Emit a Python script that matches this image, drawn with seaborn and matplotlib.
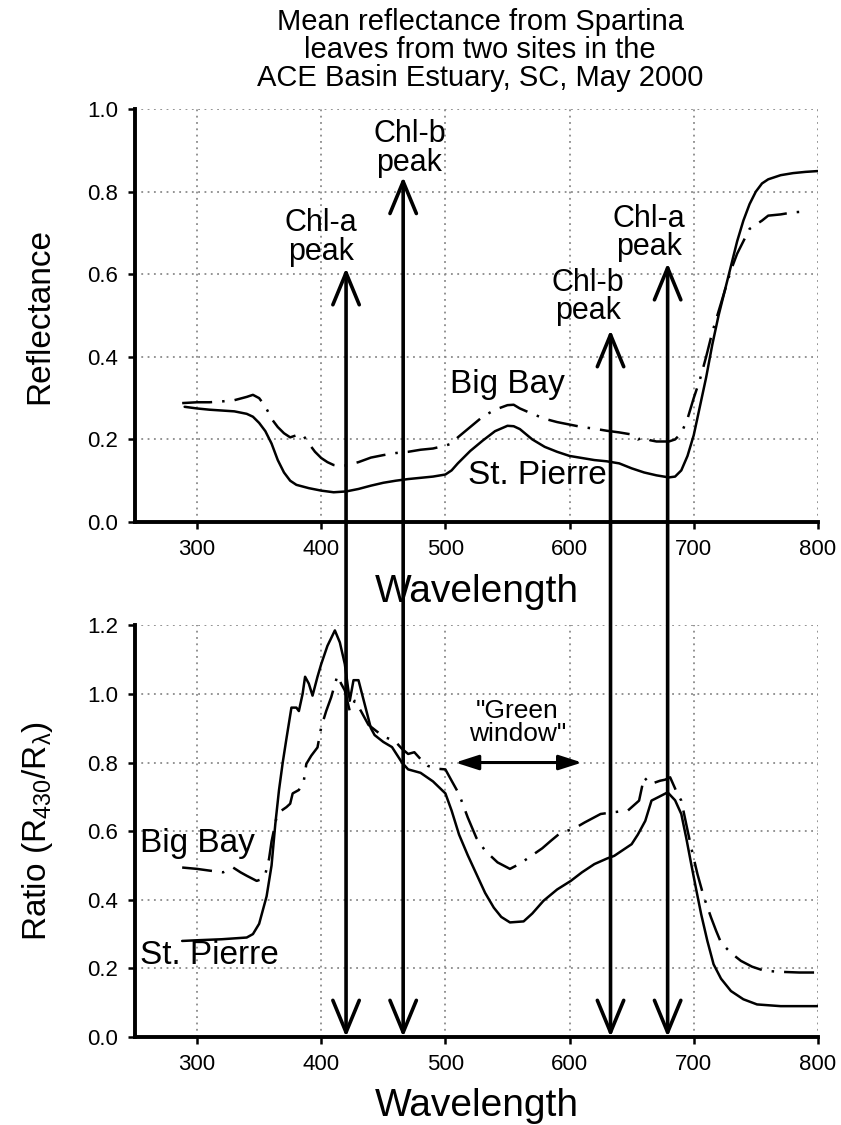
import numpy as np
import pandas as pd
import matplotlib
matplotlib.use("Agg")
import matplotlib.pyplot as plt
from matplotlib.patches import ConnectionPatch
import seaborn as sns

# ============================================
# 1. DONNEES
# ============================================
title = "Mean reflectance from Spartina\nleaves from two sites in the\nACE Basin Estuary, SC, May 2000"
sites = ["St. Pierre", "Big Bay"]

# --- Reflectance (panneau du haut)
wl_sp_top = [290, 300, 310, 320, 330, 340, 345, 350, 355, 360, 365, 370, 375, 380, 390, 400,
             410, 420, 430, 440, 450, 460, 470, 480, 490, 500, 505, 510, 520, 530, 540, 550,
             555, 560, 570, 580, 590, 600, 610, 620, 630, 640, 650, 660, 670, 680, 685, 690,
             695, 700, 705, 710, 715, 720, 725, 730, 735, 740, 745, 750, 755, 760, 770, 780,
             790, 800]
refl_sp = [0.279, 0.275, 0.272, 0.270, 0.268, 0.262, 0.255, 0.240, 0.220, 0.190, 0.150, 0.120,
           0.100, 0.090, 0.082, 0.076, 0.072, 0.074, 0.080, 0.088, 0.095, 0.100, 0.104, 0.107,
           0.110, 0.115, 0.125, 0.142, 0.172, 0.197, 0.220, 0.233, 0.232, 0.225, 0.200, 0.182,
           0.170, 0.160, 0.155, 0.150, 0.147, 0.142, 0.130, 0.120, 0.113, 0.108, 0.110, 0.125,
           0.160, 0.210, 0.280, 0.350, 0.430, 0.500, 0.560, 0.620, 0.680, 0.730, 0.770, 0.800,
           0.820, 0.830, 0.840, 0.845, 0.848, 0.850]

wl_bb_top = [288, 300, 310, 320, 330, 340, 345, 350, 355, 360, 365, 370, 375, 380, 385, 390,
             395, 400, 405, 410, 415, 420, 430, 440, 450, 460, 470, 480, 490, 500, 505, 510,
             520, 530, 540, 550, 555, 560, 570, 580, 590, 600, 610, 620, 630, 640, 650, 655,
             660, 665, 670, 680, 685, 690, 695, 700, 705, 710, 715, 720, 725, 730, 735, 740,
             745, 750, 755, 760, 770, 780, 790]
refl_bb = [0.288, 0.290, 0.290, 0.292, 0.295, 0.303, 0.308, 0.300, 0.280, 0.250, 0.230, 0.215,
           0.205, 0.210, 0.212, 0.190, 0.170, 0.155, 0.145, 0.138, 0.136, 0.137, 0.145, 0.156,
           0.162, 0.167, 0.170, 0.175, 0.178, 0.185, 0.190, 0.205, 0.230, 0.255, 0.272, 0.283,
           0.284, 0.275, 0.262, 0.250, 0.242, 0.236, 0.230, 0.226, 0.221, 0.217, 0.212, 0.200,
           0.205, 0.198, 0.195, 0.195, 0.200, 0.215, 0.250, 0.300, 0.345, 0.400, 0.460, 0.510,
           0.560, 0.610, 0.650, 0.680, 0.710, 0.720, 0.730, 0.742, 0.745, 0.750, 0.752]

# --- Ratio R430/R (panneau du bas)
wl_sp_bot = [288, 300, 320, 340, 345, 350, 353, 356, 360, 363, 366, 369, 372, 376, 380, 382,
             385, 387, 390, 393, 397, 400, 405, 411, 415, 419, 423, 426, 430, 435, 440, 443,
             450, 457, 465, 470, 480, 490, 500, 505, 511, 518, 525, 532, 539, 545, 552, 563,
             570, 579, 590, 601, 610, 620, 630, 636, 643, 650, 655, 661, 666, 672, 679, 685,
             690, 694, 698, 702, 706, 711, 716, 722, 730, 740, 751, 770, 800]
ratio_sp = [0.280, 0.282, 0.285, 0.290, 0.300, 0.330, 0.370, 0.410, 0.500, 0.620, 0.720, 0.800,
            0.870, 0.960, 0.960, 0.950, 1.000, 1.050, 1.030, 0.995, 1.050, 1.087, 1.140, 1.185,
            1.150, 1.087, 0.980, 1.040, 1.040, 0.970, 0.900, 0.880, 0.860, 0.845, 0.800, 0.780,
            0.770, 0.745, 0.710, 0.660, 0.590, 0.530, 0.475, 0.420, 0.377, 0.350, 0.334, 0.337,
            0.360, 0.397, 0.430, 0.455, 0.480, 0.504, 0.520, 0.528, 0.545, 0.562, 0.590, 0.630,
            0.689, 0.700, 0.713, 0.690, 0.650, 0.580, 0.504, 0.430, 0.358, 0.280, 0.212, 0.170,
            0.134, 0.110, 0.095, 0.090, 0.090]

wl_bb_bot = [288, 300, 310, 321, 329, 335, 340, 348, 352, 355, 358, 360, 364, 368, 372, 375,
             377, 382, 386, 388, 392, 397, 400, 404, 408, 413, 416, 419, 423, 427, 432, 438,
             445, 451, 459, 465, 470, 475, 480, 486, 493, 500, 505, 511, 518, 525, 532, 542,
             552, 560, 570, 578, 585, 593, 603, 612, 625, 635, 647, 656, 660, 665, 669, 673,
             677, 681, 687, 690, 694, 698, 703, 708, 714, 718, 722, 730, 738, 747, 757, 770,
             785, 800]
ratio_bb = [0.494, 0.490, 0.485, 0.480, 0.494, 0.480, 0.470, 0.455, 0.460, 0.475, 0.520, 0.570,
            0.640, 0.660, 0.670, 0.680, 0.710, 0.720, 0.747, 0.796, 0.820, 0.844, 0.903, 0.950,
            0.990, 1.053, 1.030, 1.010, 0.950, 0.980, 0.950, 0.910, 0.890, 0.874, 0.864, 0.840,
            0.825, 0.830, 0.810, 0.790, 0.782, 0.780, 0.747, 0.708, 0.640, 0.580, 0.543, 0.509,
            0.490, 0.505, 0.530, 0.550, 0.572, 0.596, 0.606, 0.625, 0.650, 0.655, 0.660, 0.689,
            0.757, 0.737, 0.742, 0.747, 0.750, 0.757, 0.708, 0.689, 0.620, 0.552, 0.475, 0.410,
            0.348, 0.310, 0.275, 0.245, 0.222, 0.205, 0.193, 0.190, 0.188, 0.188]

# fleches des pics de chlorophylle : longueur d'onde, hauteur dans le panneau du haut
peak_wl = [420, 466, 633, 679]
peak_top = [0.615, 0.836, 0.465, 0.627]
peak_labels = ["Chl-a\npeak", "Chl-b\npeak", "Chl-b\npeak", "Chl-a\npeak"]
peak_label_x = [400, 471, 615, 664]
peak_label_y = [0.69, 0.905, 0.545, 0.70]

x_ticks = [300, 400, 500, 600, 700, 800]
y_ticks_top = [0.0, 0.2, 0.4, 0.6, 0.8, 1.0]
y_ticks_bot = [0.0, 0.2, 0.4, 0.6, 0.8, 1.0, 1.2]

df_top = pd.concat([
    pd.DataFrame({"wl": wl_sp_top, "val": refl_sp, "site": sites[0]}),
    pd.DataFrame({"wl": wl_bb_top, "val": refl_bb, "site": sites[1]}),
])
df_bot = pd.concat([
    pd.DataFrame({"wl": wl_sp_bot, "val": ratio_sp, "site": sites[0]}),
    pd.DataFrame({"wl": wl_bb_bot, "val": ratio_bb, "site": sites[1]}),
])

# ============================================
# 2. STYLE
# ============================================
sns.set_style("white")
plt.rcParams["font.family"] = ["Liberation Sans", "DejaVu Sans"]
plt.rcParams["mathtext.default"] = "regular"
plt.rcParams["text.color"] = "black"
plt.rcParams["axes.labelcolor"] = "black"
plt.rcParams["xtick.color"] = "black"
plt.rcParams["ytick.color"] = "black"

tick_font = ["Liberation Sans Narrow", "Liberation Sans", "DejaVu Sans"]
dash_styles = {"St. Pierre": "", "Big Bay": (12, 4, 1, 4)}

fig = plt.figure(figsize=(8.41, 11.25), dpi=100)
ax1 = fig.add_axes([0.1605, 0.536, 0.812, 0.367])
ax2 = fig.add_axes([0.1605, 0.0782, 0.812, 0.366])

# ============================================
# 3. COURBES
# ============================================
for ax, df in [(ax1, df_top), (ax2, df_bot)]:
    sns.lineplot(data=df, x="wl", y="val", style="site", dashes=dash_styles,
                 color="black", linewidth=1.8, estimator=None, sort=False,
                 legend=False, ax=ax)

for ax, yt in [(ax1, y_ticks_top), (ax2, y_ticks_bot)]:
    ax.set_xlim(250, 800)
    ax.set_ylim(yt[0], yt[-1])
    ax.set_xticks(x_ticks)
    ax.set_yticks(yt)
    ax.set_yticklabels([f"{v:.1f}" for v in yt])
    ax.grid(True, linestyle=(0, (1, 2.5)), color="#8a8a8a", linewidth=1.3)
    ax.set_axisbelow(True)
    sns.despine(ax=ax)
    for s in ["left", "bottom"]:
        ax.spines[s].set_linewidth(2.8)
        ax.spines[s].set_color("black")
    ax.tick_params(direction="out", length=5, width=1.8, colors="black",
                   labelsize=16, pad=7, bottom=True, left=True)
    for lbl in ax.get_xticklabels() + ax.get_yticklabels():
        lbl.set_fontfamily(tick_font)
        lbl.set_color("black")
    ax.set_xlabel("Wavelength", fontsize=28, color="black")
    ax.xaxis.set_label_coords(0.5, -0.125)

ax1.set_ylabel("Reflectance", fontsize=24, color="black")
ax1.yaxis.set_label_coords(-0.117, 0.5)
ax2.set_ylabel("Ratio (R$_{430}$/R$_{\\lambda}$)", fontsize=24, color="black")
ax2.yaxis.set_label_coords(-0.117, 0.5)

# ============================================
# 4. ANNOTATIONS
# ============================================
fig.text(0.571, 0.9555, title, ha="center", va="center", fontsize=21,
         linespacing=1.0, color="black")

for lx, ly, txt in zip(peak_label_x, peak_label_y, peak_labels):
    ax1.text(lx, ly, txt, ha="center", va="center", fontsize=22, linespacing=0.95)

ax1.text(550, 0.332, "Big Bay", ha="center", va="center", fontsize=24)
ax1.text(574, 0.112, "St. Pierre", ha="center", va="center", fontsize=24)
ax2.text(254, 0.565, "Big Bay", ha="left", va="center", fontsize=24)
ax2.text(254, 0.239, "St. Pierre", ha="left", va="center", fontsize=24)

ax2.text(558, 0.916, "\"Green\nwindow\"", ha="center", va="center", fontsize=19, linespacing=0.95)
ax2.annotate("", xy=(508, 0.8), xytext=(610, 0.8),
             arrowprops=dict(arrowstyle="<|-|>,head_length=1.4,head_width=0.45",
                             color="black", lw=2.2, shrinkA=0, shrinkB=0))

# fleches verticales qui traversent les deux panneaux
for px, pt in zip(peak_wl, peak_top):
    con = ConnectionPatch(xyA=(px, pt), coordsA=ax1.transData,
                          xyB=(px, 0.0), coordsB=ax2.transData,
                          arrowstyle="<->,head_length=2.3,head_width=0.95",
                          mutation_scale=10, linewidth=2.6, color="black")
    fig.add_artist(con)

plt.savefig("out.png", dpi=100)
print("out.png sauvegarde")
